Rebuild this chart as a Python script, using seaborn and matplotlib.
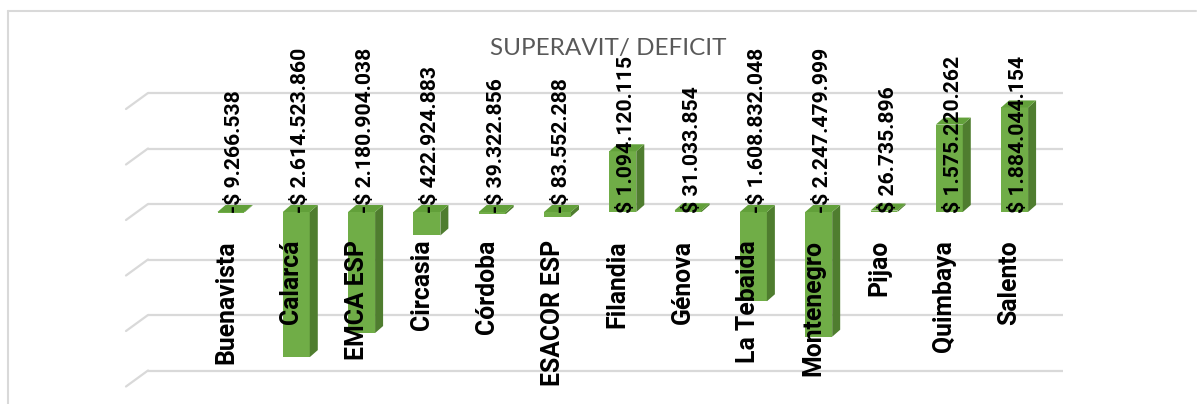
import numpy as np
import pandas as pd
import seaborn as sns
import matplotlib
matplotlib.use("Agg")
import matplotlib.pyplot as plt
from matplotlib.patches import Polygon
from matplotlib.lines import Line2D

# ---- data ----
categories = ["Buenavista", "Calarcá", "EMCA ESP", "Circasia", "Córdoba", "ESACOR ESP",
              "Filandia", "Génova", "La Tebaida", "Montenegro", "Pijao", "Quimbaya", "Salento"]
values = [-9266538, -2614523860, -2180904038, -422924883, -39322856, -83552288,
          1094120115, 31033854, -1608832048, -2247479999, 26735896, 1575220262, 1884044154]
grid_values = [-3e9, -2e9, -1e9, 0, 1e9, 2e9]
title = "SUPERAVIT/ DEFICIT"

def fmt(v):
    s = f"{abs(v):,}".replace(",", ".")
    return ("-$ " if v < 0 else "$ ") + s

sns.set_theme(style="white")
plt.rcParams["font.family"] = ["Roboto", "DejaVu Sans"]

W, H = 1197, 404
fig = plt.figure(figsize=(W / 100, H / 100), dpi=100)
ax = fig.add_axes([0, 0, 1, 1])

x0_px, x_step = 231.0, 65.3
y0_px, y_scale = 212.0, 55.5 / 1e9

def set_lims():
    ax.set_xlim((0 - x0_px) / x_step, (W - x0_px) / x_step)
    ax.set_ylim((y0_px - H) / y_scale, y0_px / y_scale)
    ax.axis("off")

set_lims()
dx = 8 / x_step
dy = 7 / y_scale

# back-wall gridlines
gdy = 8 / y_scale
for g in grid_values:
    yb = g + gdy
    ax.plot([(148 - x0_px) / x_step, (1063 - x0_px) / x_step], [yb, yb],
            color="#D9D9D9", lw=1.6, zorder=0, solid_capstyle="butt")
    ax.plot([(126 - x0_px) / x_step, (148 - x0_px) / x_step], [yb - 16 / y_scale, yb],
            color="#D9D9D9", lw=1.6, zorder=0)

df = pd.DataFrame({"cat": categories, "val": values})
sns.barplot(data=df, x="cat", y="val", color="#70AD47", saturation=1, width=0.413,
            ax=ax, zorder=2, linewidth=0)
set_lims()

for p in ax.patches:
    x = p.get_x(); w = p.get_width(); y = p.get_y(); h = p.get_height()
    top = max(y, y + h); bot = min(y, y + h)
    ax.add_patch(Polygon([(x + w, bot), (x + w + dx, bot + dy), (x + w + dx, top + dy), (x + w, top)],
                         closed=True, facecolor="#4F7D2F", edgecolor="none", zorder=2))
    ax.add_patch(Polygon([(x, top), (x + dx, top + dy), (x + w + dx, top + dy), (x + w, top)],
                         closed=True, facecolor="#62A03A", edgecolor="none", zorder=2))

for i, (c, v) in enumerate(zip(categories, values)):
    ax.annotate(c, xy=(i, 0), xytext=(-5, -28), textcoords="offset pixels",
                rotation=90, ha="center", va="top", fontsize=17.8, fontweight="bold",
                color="black", zorder=5)
    ax.annotate(fmt(v), xy=(i, 0), xytext=(4, -1), textcoords="offset pixels",
                rotation=90, ha="center", va="bottom", fontsize=15.2, fontweight="bold",
                color="black", zorder=5)

fig.text(608 / W, 1 - 49 / H, title, ha="center", va="center", fontsize=17.5,
         color="#595959", family=["Lato", "DejaVu Sans"])

fig.add_artist(Line2D([8 / W, 1196 / W], [1 - 11 / H, 1 - 11 / H], transform=fig.transFigure,
                      color="#D9D9D9", lw=1.5))
fig.add_artist(Line2D([8 / W, 8 / W], [1 - 11 / H, 0], transform=fig.transFigure,
                      color="#D9D9D9", lw=1.5))

fig.savefig("out.png", dpi=100)
